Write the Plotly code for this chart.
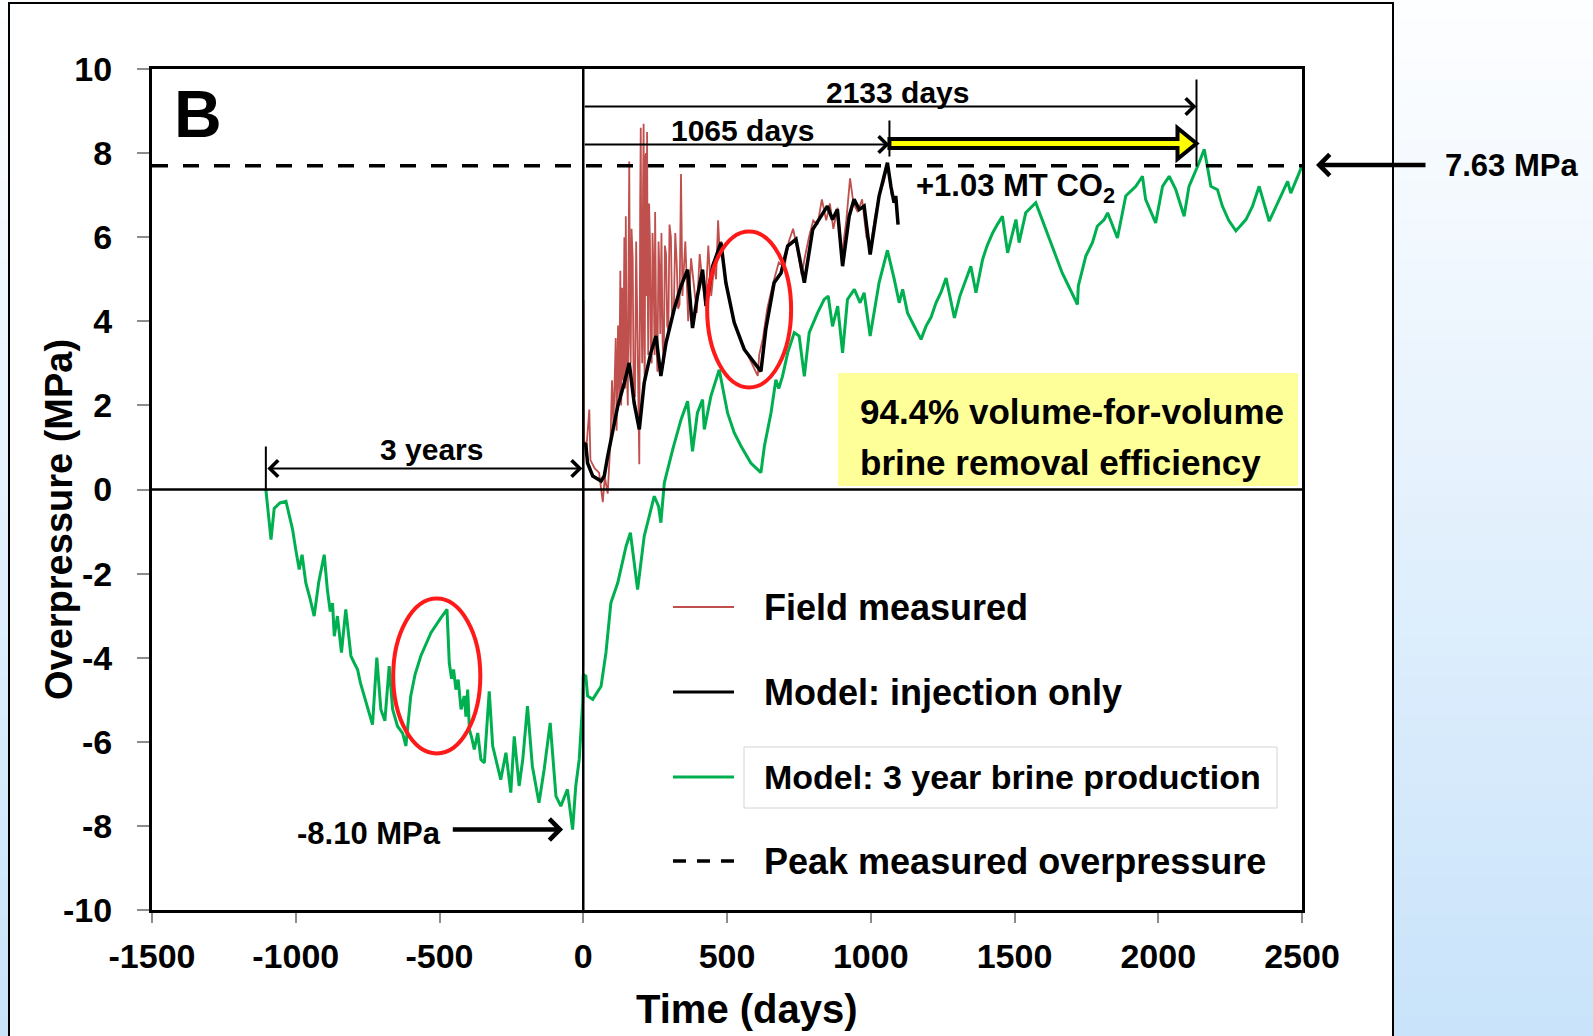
import plotly.graph_objects as go

# ---------------- data ----------------
green_days = [-1104, -1086, -1075, -1055, -1034, -1025, -1011, -1000, -988, -978,
              -970, -965, -950, -936, -920, -901, -890, -880, -872, -866,
              -855, -841, -826, -808, -797, -785, -775, -762, -745, -733,
              -718, -704, -690, -675, -663, -646, -628, -617, -600, -585,
              -565, -545, -530, -500, -474, -466, -458, -451, -443, -435,
              -425, -414, -408, -402, -396, -388, -379, -367, -356, -344,
              -327, -315, -300, -287, -269, -252, -240, -223, -210, -194,
              -177, -165, -154, -136, -115, -95, -78, -55, -45, -37,
              -26, -14, -2, 0, 9, 15, 33, 62, 79, 96,
              120, 149, 164, 189, 212, 247, 262, 270, 282, 311,
              340, 363, 380, 397, 415, 421, 444, 473, 502, 525,
              549, 583, 618, 630, 653, 670, 680, 693, 711, 734,
              751, 769, 786, 815, 838, 852, 867, 885, 902, 919,
              943, 963, 977, 998, 1029, 1058, 1082, 1099, 1111, 1128,
              1150, 1175, 1192, 1210, 1227, 1245, 1262, 1291, 1310, 1331,
              1348, 1366, 1389, 1405, 1424, 1440, 1458, 1476, 1505, 1516,
              1539, 1574, 1621, 1666, 1719, 1722, 1748, 1771, 1788, 1812,
              1824, 1858, 1887, 1922, 1945, 1956, 1991, 2015, 2038, 2061,
              2090, 2107, 2142, 2160, 2183, 2206, 2223, 2245, 2270, 2305,
              2328, 2351, 2386, 2421, 2450, 2461, 2500]
green_vals = [0.0, -1.19, -0.45, -0.32, -0.28, -0.55, -0.95, -1.43, -1.90, -1.55,
              -2.0, -2.22, -2.6, -3.01, -2.2, -1.55, -2.38, -2.9, -2.70, -3.49,
              -3.01, -3.88, -2.85, -3.96, -4.12, -4.28, -4.6, -4.91, -5.3, -5.59,
              -4.00, -5.23, -5.5, -4.20, -5.23, -5.63, -5.8, -6.10, -4.91, -4.4,
              -3.96, -3.65, -3.41, -3.1, -2.85, -4.12, -4.5, -4.28, -4.76, -4.52,
              -5.23, -4.91, -5.4, -4.76, -5.71, -5.9, -6.18, -5.79, -6.42, -6.5,
              -4.80, -6.10, -6.5, -6.90, -6.26, -7.21, -5.87, -7.05, -6.4, -5.15,
              -6.58, -7.0, -7.45, -6.66, -5.55, -7.29, -7.53, -7.13, -7.7, -8.09,
              -7.05, -6.42, -5.07, -4.4, -4.44, -4.91, -4.99, -4.68, -3.88, -2.7,
              -2.22, -1.35, -1.03, -2.38, -1.11, -0.16, -0.4, -0.79, 0.16, 0.95,
              1.66, 2.10, 0.91, 1.82, 2.14, 1.43, 2.22, 2.85, 1.82, 1.35,
              1.03, 0.63, 0.40, 1.03, 1.82, 2.61, 2.4, 2.69, 3.25, 3.73,
              3.65, 2.69, 3.73, 4.2, 4.52, 4.6, 3.88, 4.36, 3.25, 4.52,
              4.76, 4.44, 4.68, 3.65, 4.92, 5.69, 4.99, 4.44, 4.76, 4.2,
              3.9, 3.57, 3.88, 4.1, 4.44, 4.7, 5.03, 4.08, 4.6, 4.99,
              5.31, 4.68, 5.47, 5.8, 6.10, 6.3, 6.50, 5.63, 6.42, 5.87,
              6.58, 6.82, 5.95, 5.15, 4.40, 4.84, 5.55, 5.87, 6.26, 6.42,
              6.58, 5.98, 6.98, 7.21, 7.45, 6.90, 6.34, 7.21, 7.45, 7.13,
              6.50, 7.21, 7.77, 8.09, 7.21, 7.13, 6.74, 6.4, 6.15, 6.42,
              6.74, 7.21, 6.38, 6.90, 7.33, 7.05, 7.69]

black_days = [2, 9, 15, 33, 62, 73, 85, 102, 120, 143,
              160, 177, 195, 212, 235, 253, 270, 288, 316, 340,
              363, 380, 397, 415, 427, 450, 479, 496, 525, 560,
              618, 635, 664, 688, 711, 740, 769, 798, 826, 849,
              867, 884, 902, 925, 942, 960, 977, 998, 1029, 1058,
              1070, 1081, 1087, 1095]
black_vals = [1.1, 1.07, 0.63, 0.32, 0.20, 0.32, 0.79, 1.35, 1.98, 2.54,
              3.01, 2.06, 1.43, 2.54, 3.25, 3.65, 2.70, 3.49, 4.28, 4.84,
              5.23, 3.84, 4.60, 5.23, 4.36, 5.31, 5.87, 4.92, 3.97, 3.33,
              2.81, 3.81, 4.92, 5.15, 5.79, 5.95, 4.92, 6.18, 6.50, 6.74,
              6.42, 6.66, 5.31, 6.50, 6.90, 6.66, 6.74, 5.59, 6.98, 7.77,
              7.21, 6.82, 6.98, 6.30]

red_days = [0, 1, 3, 10, 21, 25, 40, 55, 68, 75, 85,
            95, 100, 105, 109, 113, 116, 121, 125, 129, 132,
            135, 139, 143, 146, 148, 151, 155, 158, 160, 163,
            165, 168, 172, 175, 180, 184, 188, 191, 195, 198,
            200, 203, 205, 208, 210, 212, 214, 216, 218, 220,
            222, 224, 226, 229, 232, 235, 238, 241, 245, 248,
            250, 254, 258, 262, 265, 268, 272, 276, 280, 284,
            288, 292, 296, 300, 305, 309, 315, 320, 325, 330,
            335, 340, 345,
            355, 365, 375, 385, 395, 405, 415, 425, 435, 445,
            455, 462, 469, 475, 480, 490, 505, 525, 545, 565,
            585, 607, 612, 625, 640, 660, 680, 700, 715, 730,
            745, 760, 770, 785, 800, 815, 830, 845, 858, 870,
            885, 900, 915, 928, 940, 955, 970, 985, 1000, 1015,
            1030, 1045, 1058, 1065, 1072]
red_vals = [-4.2, 4.5, 1.2, 0.9, 1.9, 0.7, 0.5, 0.4, -0.3, 0.3, -0.1,
            1.2, 2.6, 1.5, 3.0, 3.6, 1.4, 3.9, 2.2, 5.2, 2.0,
            4.8, 2.6, 6.0, 2.4, 6.5, 3.1, 2.0, 5.8, 7.8, 3.5,
            3.0, 6.2, 5.5, 2.6, 2.2, 5.9, 4.0, 2.5, 0.6, 6.8,
            8.6, 4.0, 3.0, 7.2, 8.7, 3.4, 2.5, 7.9, 8.0, 4.6,
            8.5, 5.0, 3.2, 6.8, 5.9, 3.4, 3.0, 6.1, 5.0, 3.2,
            6.6, 3.6, 2.8, 5.9, 5.2, 3.7, 6.1, 3.5, 3.0, 5.8,
            5.6, 3.9, 3.8, 6.3, 6.0, 4.1, 4.2, 6.1, 5.4, 4.3,
            4.4, 7.5, 4.6,
            5.9, 4.0, 5.5, 4.8, 4.2, 5.6, 4.9, 4.4, 5.8, 4.6,
            5.3, 5.0, 6.4, 5.6, 5.9, 5.2, 4.6, 4.0, 3.6, 3.3,
            3.0, 2.7, 3.2, 3.6, 4.3, 4.9, 5.4, 5.3, 5.9, 6.2,
            5.7, 5.1, 5.5, 6.0, 6.4, 6.3, 6.9, 6.4, 6.8, 6.2,
            6.7, 5.6, 6.4, 7.4, 6.8, 6.6, 6.9, 6.0, 5.8, 6.5,
            7.0, 7.3, 7.7, 7.5, 7.0]

peak_level = 7.7          # dashed "peak measured overpressure" line as drawn
peak_label = "7.63 MPa"
min_label = "-8.10 MPa"
min_day, min_val = -37, -8.09
brine_start_day = -1104
injection_mark_day = 1065
equal_pressure_day = 2133

legend_labels = ["Field measured", "Model: injection only",
                 "Model: 3 year brine production", "Peak measured overpressure"]
x_ticks = [-1500, -1000, -500, 0, 500, 1000, 1500, 2000, 2500]
x_ticktext = ["-1500", "-1000", "-500", "0", "500", "1000", "1500", "2000", "2500"]
y_ticks = [-10, -8, -6, -4, -2, 0, 2, 4, 6, 8, 10]
y_ticktext = ["-10", "-8", "-6", "-4", "-2", "0", "2", "4", "6", "8", "10"]

# ---------------- layout helpers ----------------
FONT = "Liberation Sans, Arial, Helvetica, sans-serif"
W, H = 1593, 1036
L, R, T, B = 152, 1302, 69, 910
GREEN, RED, BLACK = "#00B050", "#C0504D", "#000000"


def px(x):
    return (x - L) / (R - L)


def py(y):
    return (B - y) / (B - T)


def vy(y):  # pixel row -> data value
    return (490 - y) / 42.05


fig = go.Figure()
fig.add_trace(go.Scatter(x=green_days, y=green_vals, mode="lines", name=legend_labels[2],
                         line=dict(color=GREEN, width=3), showlegend=False))
fig.add_trace(go.Scatter(x=red_days, y=red_vals, mode="lines", name=legend_labels[0],
                         line=dict(color=RED, width=1.8), showlegend=False))
fig.add_trace(go.Scatter(x=black_days, y=black_vals, mode="lines", name=legend_labels[1],
                         line=dict(color=BLACK, width=3.5), showlegend=False))

shapes = []
# page gradient background
n = 52
for i in range(n):
    t = i / (n - 1)
    r = int(round(253 - t * (253 - 201)))
    g = int(round(254 - t * (254 - 227)))
    b = int(round(255 - t * (255 - 250)))
    y0 = i * H / n
    y1 = (i + 1) * H / n + 1
    shapes.append(dict(type="rect", xref="paper", yref="paper", x0=px(-2), x1=px(W + 2),
                       y0=py(y1), y1=py(y0), fillcolor=f"rgb({r},{g},{b})",
                       line=dict(width=0), layer="below"))
# white slide panel
shapes.append(dict(type="rect", xref="paper", yref="paper", x0=px(9), x1=px(1393),
                   y0=py(1050), y1=py(3), fillcolor="white",
                   line=dict(color="black", width=2), layer="below"))

# zero lines
shapes.append(dict(type="line", xref="x", yref="y", x0=-1500, x1=2500, y0=0, y1=0,
                   line=dict(color="black", width=2.5)))
shapes.append(dict(type="line", xref="x", yref="y", x0=0, x1=0, y0=-10, y1=10,
                   line=dict(color="black", width=2.5)))
# peak dashed line
shapes.append(dict(type="line", xref="x", yref="y", x0=-1500, x1=2500, y0=peak_level, y1=peak_level,
                   line=dict(color="black", width=3.5, dash="16px,15px")))
# vertical markers
shapes.append(dict(type="line", xref="x", yref="y", x0=injection_mark_day, x1=injection_mark_day,
                   y0=vy(157), y1=vy(121), line=dict(color="black", width=2)))
shapes.append(dict(type="line", xref="x", yref="y", x0=equal_pressure_day, x1=equal_pressure_day,
                   y0=vy(167), y1=vy(80), line=dict(color="black", width=2)))
shapes.append(dict(type="line", xref="x", yref="y", x0=brine_start_day, x1=brine_start_day,
                   y0=0, y1=vy(447), line=dict(color="black", width=2)))

# yellow block arrow
yc = vy(144)
hb = 4.5 / 42.05
hh = 15.5 / 42.05
head_len = 19 / 0.2875
xb = equal_pressure_day - head_len
path = (f"M {injection_mark_day},{yc - hb} L {xb},{yc - hb} L {xb},{yc - hh} "
        f"L {equal_pressure_day},{yc} L {xb},{yc + hh} L {xb},{yc + hb} "
        f"L {injection_mark_day},{yc + hb} Z")
shapes.append(dict(type="path", xref="x", yref="y", path=path, fillcolor="#FFFF00",
                   line=dict(color="black", width=4)))

# red ellipses
shapes.append(dict(type="circle", xref="x", yref="y", x0=431, x1=723, y0=vy(388), y1=vy(232),
                   line=dict(color="#FF1A1A", width=4)))
shapes.append(dict(type="circle", xref="x", yref="y", x0=-661, x1=-358, y0=vy(754), y1=vy(599),
                   line=dict(color="#FF1A1A", width=4)))

# yellow text box
shapes.append(dict(type="rect", xref="paper", yref="paper", x0=px(838), x1=px(1298),
                   y0=py(486), y1=py(373), fillcolor="#FFFF99", line=dict(width=0)))

# legend samples
leg_y = [607, 692, 777, 861]
shapes.append(dict(type="line", xref="paper", yref="paper", x0=px(673), x1=px(734),
                   y0=py(leg_y[0]), y1=py(leg_y[0]), line=dict(color=RED, width=2)))
shapes.append(dict(type="line", xref="paper", yref="paper", x0=px(673), x1=px(734),
                   y0=py(leg_y[1]), y1=py(leg_y[1]), line=dict(color=BLACK, width=3)))
shapes.append(dict(type="line", xref="paper", yref="paper", x0=px(673), x1=px(734),
                   y0=py(leg_y[2]), y1=py(leg_y[2]), line=dict(color=GREEN, width=3)))
shapes.append(dict(type="line", xref="paper", yref="paper", x0=px(673), x1=px(734),
                   y0=py(leg_y[3]), y1=py(leg_y[3]), line=dict(color=BLACK, width=3.5, dash="13px,11px")))
shapes.append(dict(type="rect", xref="paper", yref="paper", x0=px(744), x1=px(1277),
                   y0=py(808), y1=py(747), line=dict(color="#D4D4D4", width=1)))

annotations = []


def text(x, y, s, size, anchor="center", angle=0):
    annotations.append(dict(xref="paper", yref="paper", x=px(x), y=py(y), text=f"<b>{s}</b>",
                            showarrow=False, xanchor=anchor, yanchor="middle", textangle=angle,
                            font=dict(family=FONT, size=size, color="black")))


text(198, 114, "B", 66)
text(897, 93, f"{equal_pressure_day} days", 30)
text(742, 131, f"{injection_mark_day} days", 30)
text(431, 450, "3 years", 30)
text(914, 188, "+1.03 MT CO<sub>2</sub>", 31, anchor="left")
text(1443, 165, peak_label, 31, anchor="left")
text(369, 833, min_label, 31)
text(858, 412, "94.4% volume-for-volume", 35, anchor="left")
text(858, 462, "brine removal efficiency", 35, anchor="left")
for i, lab in enumerate(legend_labels):
    text(762, leg_y[i], lab, 34 if i == 2 else 36, anchor="left")
text(59, 520, "Overpressure (MPa)", 38, angle=-90)
text(747, 1009, "Time (days)", 40)

# arrows
def arrow(x, y, ax, ay, width=2, size=1.6, both=False):
    d = dict(xref="x", yref="y", axref="x", ayref="y", x=x, y=y, ax=ax, ay=ay, text="",
             showarrow=True, arrowhead=4, arrowsize=size, arrowwidth=width, arrowcolor="black")
    if both:
        d.update(arrowside="end+start", startarrowhead=4, startarrowsize=size)
    annotations.append(d)


arrow(injection_mark_day, vy(145), 0, vy(145))
arrow(equal_pressure_day, vy(107), 0, vy(107))
arrow(-3, vy(469), brine_start_day, vy(469), both=True)
arrow(min_day - 33, vy(830), -459, vy(830), width=4.5, size=0.9)
annotations.append(dict(xref="paper", yref="paper", x=px(1316), y=py(165), ax=111, ay=0,
                        axref="pixel", ayref="pixel", text="", showarrow=True, arrowhead=4,
                        arrowsize=0.9, arrowwidth=4.5, arrowcolor="black"))

axis_common = dict(showline=True, linecolor="black", linewidth=3, mirror=True,
                   ticks="outside", tickcolor="#8C8C8C", tickwidth=1.5, showgrid=False,
                   zeroline=False, tickfont=dict(family=FONT, size=34, color="black", weight="bold"))

fig.update_layout(
    width=W, height=H, autosize=False,
    margin=dict(l=L, r=W - R, t=T, b=H - B, pad=0),
    paper_bgcolor="white", plot_bgcolor="rgba(0,0,0,0)",
    xaxis=dict(range=[-1500, 2500], tickvals=x_ticks, ticktext=x_ticktext, ticklen=10,
               ticklabelstandoff=4, **axis_common),
    yaxis=dict(range=[-10, 10], tickvals=y_ticks, ticktext=y_ticktext, ticklen=12,
               ticklabelstandoff=18, **axis_common),
    shapes=shapes, annotations=annotations, showlegend=False,
)
fig.write_html("out.html")
